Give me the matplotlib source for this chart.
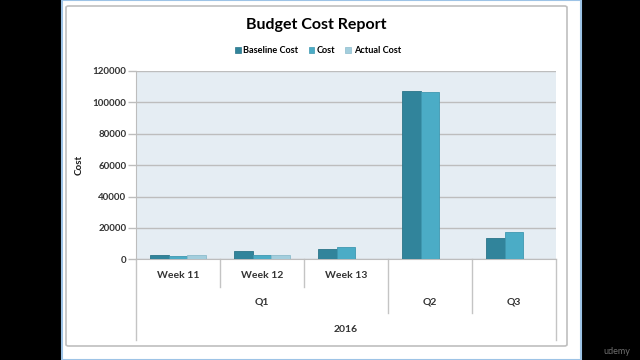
import numpy as np
import matplotlib.pyplot as plt
from matplotlib.patches import Rectangle, FancyBboxPatch, Patch
from matplotlib.transforms import blended_transform_factory

# data
weeks = ["Week 11", "Week 12", "Week 13", "", ""]
quarters = ["Q1", "Q2", "Q3"]
quarter_span = [3, 1, 1]
year = "2016"
baseline_cost = [3000, 5300, 6400, 107400, 13600]
cost = [2400, 2500, 7600, 106400, 17200]
actual_cost = [2600, 2600, np.nan, np.nan, np.nan]
series_names = ["Baseline Cost", "Cost", "Actual Cost"]
colors = ["#31849B", "#4BACC6", "#A3CEDD"]
edges = ["#2B7489", "#3F98B0", "#8DBCCC"]

plt.rcParams['font.family'] = ['Lato', 'DejaVu Sans']

W, H = 640, 360
fig = plt.figure(figsize=(6.4, 3.6), dpi=100)
fig.patch.set_facecolor("black")

def fx(px):
    return px / W

def fy(py):
    return 1 - py / H

# white slide area and chart frame
fig.patches.append(Rectangle((fx(62), 0), fx(581 - 62), 1, transform=fig.transFigure,
                             facecolor="white", edgecolor="#9DC3E6", linewidth=1.5, zorder=-2))
fig.patches.append(FancyBboxPatch((fx(66), fy(346)), fx(567 - 66), (346 - 6) / H,
                                  boxstyle="round,pad=0,rounding_size=0.004",
                                  transform=fig.transFigure, facecolor="white",
                                  edgecolor="#BFBFBF", linewidth=1.2, zorder=-1))

ax = fig.add_axes([fx(136), fy(259.3), fx(556 - 136), (259.3 - 70.9) / H])
ax.set_zorder(2)
ax.set_facecolor("#E5EDF3")

x = np.arange(len(weeks))
bw = 0.222
for i, vals in enumerate([baseline_cost, cost, actual_cost]):
    ax.bar(x + (i - 1) * bw, vals, width=bw, color=colors[i], edgecolor=edges[i],
           linewidth=0.6, zorder=3)

ax.set_xlim(-0.5, len(weeks) - 0.5)
ax.set_ylim(0, 120000)
ax.set_yticks(np.arange(0, 120001, 20000))
ax.set_yticklabels([str(v) for v in range(0, 120001, 20000)], fontsize=7, fontweight="bold",
                   color="#333333")
ax.tick_params(axis="y", length=6, width=1, color="#BDBDBD", pad=1)
ax.set_xticks([])
ax.grid(axis="y", color="#BDBDBD", linewidth=1, zorder=1)
ax.set_axisbelow(True)
for s in ["top", "right"]:
    ax.spines[s].set_visible(False)
ax.spines["left"].set_color("#BDBDBD")
ax.spines["bottom"].set_color("#BDBDBD")
ax.set_ylabel("Cost", fontsize=7, fontweight="bold", color="#1A1A1A")
ax.yaxis.set_label_coords((84 - 136) / 420, 0.5)

# multi-level category axis
tr = blended_transform_factory(ax.transData, fig.transFigure)
seps = {-0.5: 340, 0.5: 287, 1.5: 287, 2.5: 313, 3.5: 313, 4.5: 340}
for sx, bottom in seps.items():
    ax.plot([sx, sx], [fy(259.3), fy(bottom)], color="#C4C4C4", linewidth=1,
            transform=tr, clip_on=False)
for i, w in enumerate(weeks):
    if w:
        ax.text(i, fy(275), w, transform=tr, ha="center", va="center",
                fontsize=7.5, fontweight="bold", color="#333333")
start = 0
for q, n in zip(quarters, quarter_span):
    ax.text(start + (n - 1) / 2, fy(302), q, transform=tr, ha="center", va="center",
            fontsize=7.5, fontweight="bold", color="#333333")
    start += n
ax.text((len(weeks) - 1) / 2, fy(329), year, transform=tr, ha="center", va="center",
        fontsize=7.5, fontweight="bold", color="#333333")

fig.text(fx(316), fy(25), "Budget Cost Report", ha="center", va="center",
         fontsize=11.5, fontweight="bold", color="black")

handles = [Patch(facecolor=colors[i], edgecolor=edges[i], linewidth=0.5) for i in range(3)]
fig.legend(handles, series_names, loc="center", bbox_to_anchor=(fx(318), fy(50.7)),
           ncol=3, frameon=False, prop={"size": 6.6, "weight": "bold"},
           handlelength=0.6, handleheight=0.6, handletextpad=0.3, columnspacing=1.1)

fig.text(fx(617), fy(352), "udemy", ha="center", va="center", fontsize=6.5, color="#6E6E6E")

fig.savefig("out.png", dpi=100, facecolor=fig.get_facecolor())
